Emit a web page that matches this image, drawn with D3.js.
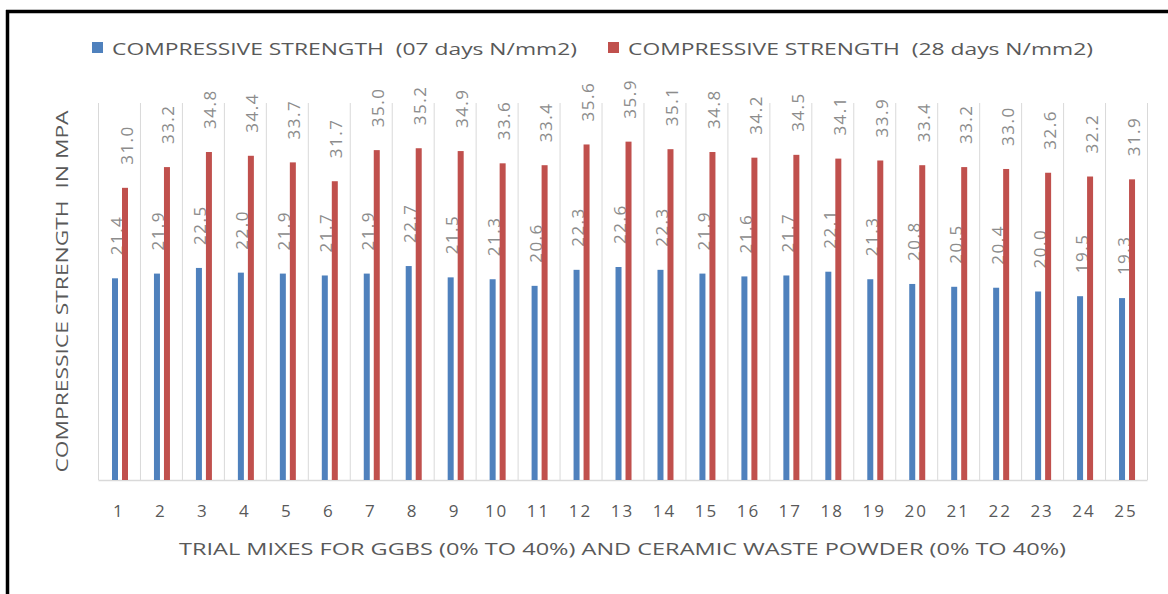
<!DOCTYPE html>
<html>
<head>
<meta charset="utf-8">
<script src="https://cdn.jsdelivr.net/npm/d3@7/dist/d3.min.js"></script>
<style>
  html, body { margin: 0; padding: 0; background: #fff; }
  svg { display: block; }
  text { font-family: "Open Sans", "DejaVu Sans", sans-serif; }
</style>
</head>
<body>
<svg id="chart" width="1168" height="594"></svg>
<script>
const categories = ["1","2","3","4","5","6","7","8","9","10","11","12","13","14","15","16","17","18","19","20","21","22","23","24","25"];
const seriesNames = ["COMPRESSIVE STRENGTH  (07 days N/mm2)", "COMPRESSIVE STRENGTH  (28 days N/mm2)"];
const strength07 = [21.4, 21.9, 22.5, 22.0, 21.9, 21.7, 21.9, 22.7, 21.5, 21.3, 20.6, 22.3, 22.6, 22.3, 21.9, 21.6, 21.7, 22.1, 21.3, 20.8, 20.5, 20.4, 20.0, 19.5, 19.3];
const strength28 = [31.0, 33.2, 34.8, 34.4, 33.7, 31.7, 35.0, 35.2, 34.9, 33.6, 33.4, 35.6, 35.9, 35.1, 34.8, 34.2, 34.5, 34.1, 33.9, 33.4, 33.2, 33.0, 32.6, 32.2, 31.9];
const yDomain = [0, 40];
const xTitle = "TRIAL MIXES FOR GGBS (0% TO 40%) AND CERAMIC WASTE POWDER (0% TO 40%)";
const yTitle = "COMPRESSICE STRENGTH  IN MPA";
const colors = ["#4f81bd", "#c0504d"];

const svg = d3.select("#chart");
svg.append("rect").attr("width", 1168).attr("height", 594).attr("fill", "#fff");

// outer frame lines (top and left)
svg.append("line").attr("x1", 6).attr("x2", 1168).attr("y1", 11.5).attr("y2", 11.5)
  .attr("stroke", "#000").attr("stroke-width", 3.5);
svg.append("line").attr("x1", 7.5).attr("x2", 7.5).attr("y1", 10).attr("y2", 594)
  .attr("stroke", "#000").attr("stroke-width", 3.5);

const plot = {left: 98, right: 1147, top: 103, bottom: 480};
const x = d3.scaleBand().domain(categories).range([plot.left, plot.right]).padding(0);
const x1 = d3.scaleBand().domain([0, 1]).range([14, 30]).paddingInner(0.4);
const y = d3.scaleLinear().domain(yDomain).range([plot.bottom, plot.top]);

// vertical gridlines at category boundaries
const bounds = categories.map(c => x(c)).concat([plot.right]);
svg.append("g").selectAll("line").data(bounds).join("line")
  .attr("x1", d => d + 0.5).attr("x2", d => d + 0.5)
  .attr("y1", plot.top).attr("y2", plot.bottom)
  .attr("stroke", "#d9d9d9").attr("stroke-width", 1);

// x axis (baseline + labels)
const xAxis = d3.axisBottom(x).tickSize(0).tickPadding(25);
const gx = svg.append("g").attr("transform", `translate(0,${plot.bottom})`).call(xAxis);
gx.select(".domain").attr("stroke", "#d9d9d9").attr("stroke-width", 1.5);
gx.selectAll("text").attr("fill", "#595959").attr("font-size", 17).attr("letter-spacing", 2)
  .attr("font-family", "Open Sans").attr("dx", 0);

const series = [strength07, strength28];
series.forEach((vals, si) => {
  const g = svg.append("g");
  g.selectAll("rect").data(vals).join("rect")
    .attr("x", (d, i) => x(categories[i]) + x1(si))
    .attr("width", x1.bandwidth())
    .attr("y", d => y(d))
    .attr("height", d => y(0) - y(d))
    .attr("fill", colors[si]);
  g.selectAll("text").data(vals).join("text")
    .attr("transform", (d, i) => `translate(${x(categories[i]) + x1(si) + x1.bandwidth() / 2 + 1},${y(d) - 23}) rotate(-90)`)
    .attr("text-anchor", "start")
    .attr("dominant-baseline", "central")
    .attr("fill", "#8c8c8c")
    .attr("font-size", 17)
    .attr("letter-spacing", 1.5)
    .text(d => d.toFixed(1));
});

// legend
const legendItems = [{x: 92, tx: 112}, {x: 608, tx: 628}];
seriesNames.forEach((name, i) => {
  svg.append("rect").attr("x", legendItems[i].x).attr("y", 42).attr("width", 11).attr("height", 11)
    .attr("fill", colors[i]);
  svg.append("text").attr("x", legendItems[i].tx).attr("y", 48)
    .attr("dominant-baseline", "central")
    .style("white-space", "pre")
    .attr("fill", "#595959").attr("font-size", 17)
    .attr("textLength", 465).attr("lengthAdjust", "spacingAndGlyphs")
    .text(name);
});

// axis titles
svg.append("text").attr("x", (plot.left + plot.right) / 2).attr("y", 549)
  .attr("text-anchor", "middle").attr("dominant-baseline", "central")
  .attr("fill", "#595959").attr("font-size", 16)
  .attr("textLength", 887).attr("lengthAdjust", "spacingAndGlyphs")
  .text(xTitle);

svg.append("text").attr("transform", `translate(62,${(plot.top + plot.bottom) / 2}) rotate(-90)`)
  .attr("text-anchor", "middle").attr("dominant-baseline", "central")
  .style("white-space", "pre")
  .attr("fill", "#595959").attr("font-size", 16)
  .attr("textLength", 362).attr("lengthAdjust", "spacingAndGlyphs")
  .text(yTitle);
</script>
</body>
</html>
